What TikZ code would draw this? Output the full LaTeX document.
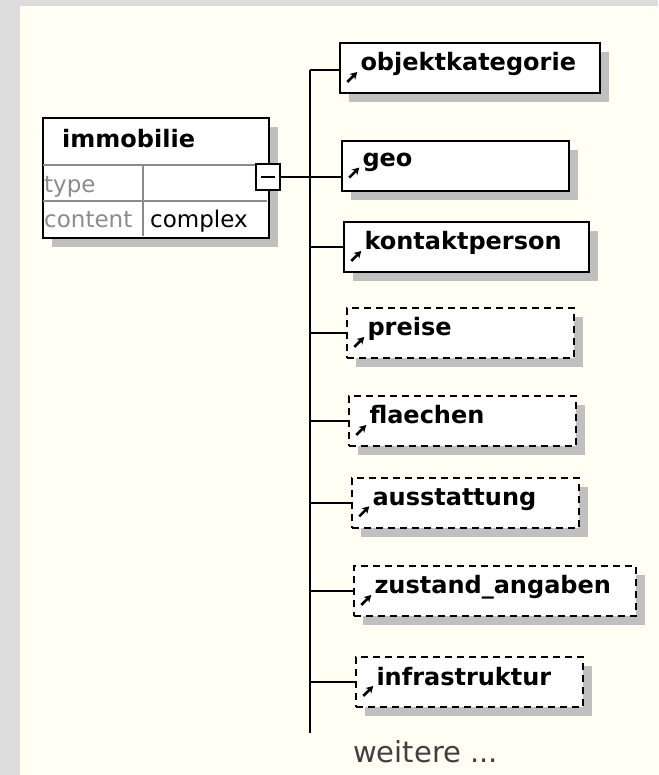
\documentclass[tikz,border=0pt]{standalone}
\usepackage{fontspec}
\setmainfont{DejaVu Sans}
\usepackage{tikz}
\usetikzlibrary{
  positioning,
  shadows,
  arrows.meta
}
\definecolor{canvas}{RGB}{255,255,244}
\definecolor{frame}{RGB}{220,220,220}
\definecolor{shade}{RGB}{192,192,192}
\definecolor{keygray}{RGB}{140,140,140}
\newcommand{\refarrow}{\tikz[baseline={(0pt,11pt)}]\draw[line width=2.5pt,-{Stealth[length=7pt,width=8pt]}] (0pt,0pt) -- (10pt,10pt);\hspace{2pt}}
\tikzset{
  boxshadow/.style={drop shadow={shadow xshift=9pt, shadow yshift=-9pt, fill=shade, opacity=1}},
  elem/.style={draw, line width=2pt, fill=white, anchor=west, minimum height=50pt,
    inner xsep=6pt, text width=#1, font=\fontsize{24}{28}\selectfont\bfseries, boxshadow},
  elem/.default=215pt,
  optional/.style={dash pattern=on 7pt off 5pt},
  link/.style={line width=2pt},
  cell/.style={anchor=base west, inner sep=0pt}
}

\begin{document}
\begin{tikzpicture}[x=1pt, y=-1pt, font=\fontsize{23}{27}\selectfont]
    \fill[frame] (0,0) rectangle (658,775);
    \fill[canvas] (20,6) rectangle (658,775);
    \useasboundingbox (0,0) rectangle (658,775);

    \node[draw, line width=2pt, fill=white, minimum width=226pt, minimum height=120pt,
      inner sep=0pt, anchor=north west, boxshadow] (tbl) at (42,117) {};
    \draw[keygray, line width=1.5pt] (43,165) -- (267,165) (43,201) -- (267,201) (143,165) -- (143,236);
    \node[cell, font=\fontsize{24}{28}\selectfont\bfseries] (head) at (62,148) {immobilie};
    \node[cell, text=keygray] (typekey) at (44,193) {type};
    \node[cell, text=keygray] (contkey) at (44,228) {content};
    \node[cell] (contval) at (150,228) {complex};
    \node[draw, line width=2pt, fill=white, minimum width=24pt, minimum height=26pt, inner sep=0pt] (collapse) at (268,177) {};
    \draw[line width=2pt] ([xshift=-7pt]collapse.center) -- ([xshift=7pt]collapse.center);

    \coordinate (bustop) at (310,70);
    \coordinate (busend) at (310,733);
    \draw[link] (bustop) -- (busend);

    \node[elem=248pt] (obj) at (339,68) {\refarrow objektkategorie};
    \node[elem] (geo) at (341,166) {\refarrow geo};
    \node[elem=233pt] (kontakt) at (343,247) {\refarrow kontaktperson};
    \node[elem, optional] (preise) at (346,333) {\refarrow preise};
    \node[elem, optional] (flaechen) at (348,421) {\refarrow flaechen};
    \node[elem, optional] (ausstattung) at (351,503) {\refarrow ausstattung};
    \node[elem=270pt, optional] (zustand) at (353,591) {\refarrow zustand\_angaben};
    \node[elem, optional] (infra) at (355,682) {\refarrow infrastruktur};

    \draw[link] (bustop) -- (bustop -| obj.west);
    \draw[link] (collapse.east) -- (collapse.east -| geo.west);
    \draw[link] (bustop |- kontakt.west) -- (kontakt.west);
    \draw[link] (bustop |- preise.west) -- (preise.west);
    \draw[link] (bustop |- flaechen.west) -- (flaechen.west);
    \draw[link] (bustop |- ausstattung.west) -- (ausstattung.west);
    \draw[link] (bustop |- zustand.west) -- (zustand.west);
    \draw[link] (bustop |- infra.west) -- (infra.west);

    \node[cell, text=black!75, font=\fontsize{29}{33}\selectfont] (more) at (353,762) {weitere ...};
\end{tikzpicture}
\end{document}
